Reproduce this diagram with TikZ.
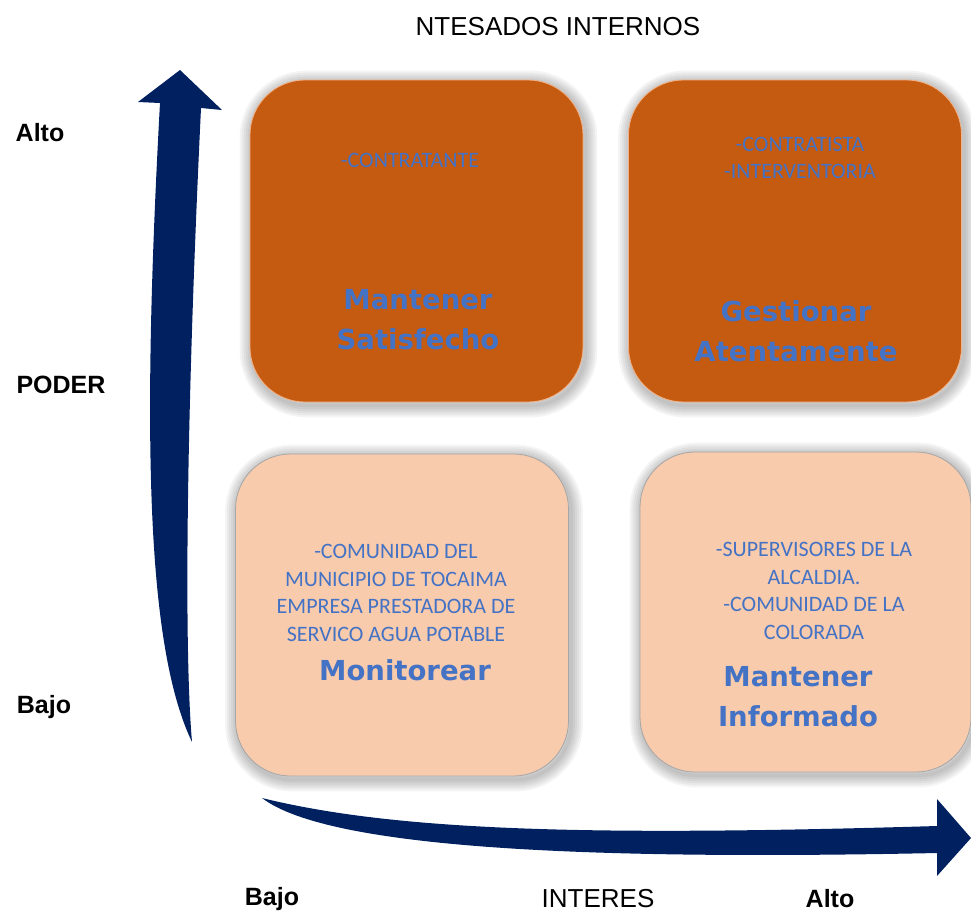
\documentclass[tikz,border=0pt]{standalone}
\usepackage{fontspec}
\setmainfont{Liberation Sans}
\newfontfamily\calfont{Carlito}
\newfontfamily\headfont{DejaVu Sans}
\usepackage{tikz}
\usetikzlibrary{backgrounds}

\definecolor{darkorange}{HTML}{C55A11}
\definecolor{lightorange}{HTML}{F4B183}
\definecolor{peach}{HTML}{F8CBAD}
\definecolor{txtblue}{HTML}{4472C4}
\definecolor{navy}{HTML}{002060}

\tikzset{
    quad/.style={rounded corners=55pt, minimum width=333pt, minimum height=322pt, inner sep=0pt},
    high/.style={quad, fill=darkorange, draw=lightorange, line width=0.8pt},
    low/.style={quad, fill=peach, draw=black!35, line width=0.8pt},
    names/.style={font=\calfont\fontsize{22}{27.5}\selectfont, text=txtblue, align=center, inner sep=0pt},
    action/.style={font=\headfont\bfseries\fontsize{27.5}{40}\selectfont, text=txtblue, align=center, inner sep=0pt},
    axislbl/.style={font=\bfseries\fontsize{25}{30}\selectfont, inner sep=0pt},
    axistitle/.style={font=\fontsize{26}{30}\selectfont, inner sep=0pt},
}

\begin{document}
\begin{tikzpicture}[x=1pt, y=-1pt]

    \useasboundingbox (0,0) rectangle (971,916);

    % quadrants
    \node[high] (satisf)  at (416.5,241) {};
    \node[high] (gestion) at (795,241) {};
    \node[low]  (monit)   at (402,615) {};
    \node[low, minimum width=331pt, minimum height=320pt] (inform) at (805.5,612) {};

    % soft shadow round the boxes
    \begin{scope}[on background layer]
        \foreach \b in {satisf,gestion,monit,inform}{
            \foreach \w in {4,8,...,24}
                \draw[black, opacity=0.045, line width=\w pt, rounded corners=55pt]
                    ([shift={(2,3)}]\b.south west) rectangle ([shift={(2,3)}]\b.north east);
        }
    \end{scope}

    % stakeholders
    \node[names] (contratante) at (410,160) {-CONTRATANTE};
    \node[names] (contratista) at (800,158) {-CONTRATISTA\\-INTERVENTORIA};
    \node[names] (comunidad) at (396,593) {-COMUNIDAD DEL\\MUNICIPIO DE TOCAIMA\\EMPRESA PRESTADORA DE\\SERVICO AGUA POTABLE};
    \node[names] (supervisores) at (814,591) {-SUPERVISORES DE LA\\ALCALDIA.\\-COMUNIDAD DE LA\\COLORADA};

    % strategies
    \node[action] (satisfTxt)  at (418,320) {Mantener\\Satisfecho};
    \node[action] (gestionTxt) at (796,331) {Gestionar\\Atentamente};
    \node[action] (monitTxt)   at (405,670) {Monitorear};
    \node[action] (informTxt)  at (798,697) {Mantener\\Informado};

    % axes
    \fill[navy] (192,742) .. controls (148,650) and (141,450) .. (160,103)
        -- (138,102) -- (180,70) -- (222,110) -- (201,108)
        .. controls (186,420) and (184,650) .. (192,742) -- cycle;
    \fill[navy] (262,798) .. controls (330,850) and (600,860) .. (937,853)
        -- (937,876) -- (971,838) -- (937,799) -- (937,826)
        .. controls (600,836) and (400,832) .. (262,798) -- cycle;

    % axis labels
    \node[axistitle] (title) at (558,27) {NTESADOS INTERNOS};
    \node[axislbl] (altoP) at (40,133) {Alto};
    \node[axislbl] (poder) at (61,385) {PODER};
    \node[axislbl] (bajoP) at (44,707) {Bajo};
    \node[axislbl] (bajoI) at (272,899) {Bajo};
    \node[axistitle] (interes) at (598,899) {INTERES};
    \node[axislbl] (altoI) at (830,899) {Alto};

\end{tikzpicture}
\end{document}
